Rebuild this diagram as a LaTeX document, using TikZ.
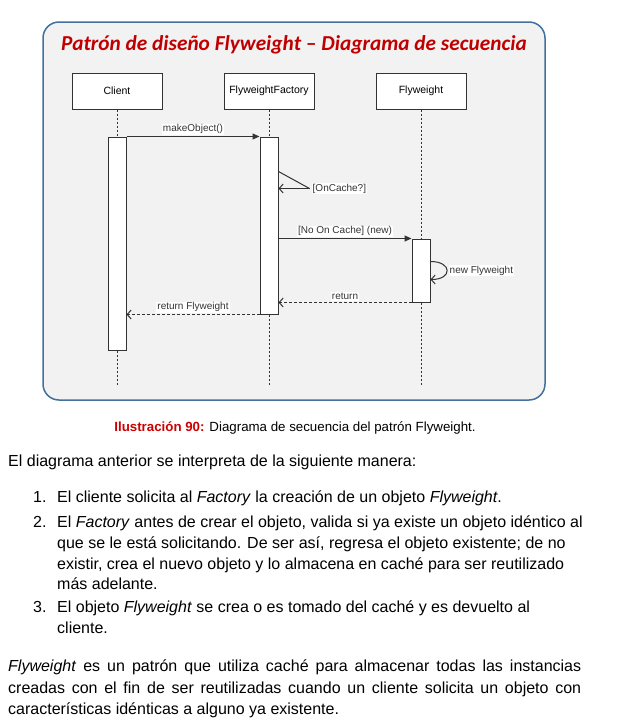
\documentclass[tikz,border=0pt]{standalone}
\usepackage{fontspec}
\setmainfont{Liberation Sans}
\newfontfamily\titlefont{Carlito}
\usetikzlibrary{arrows.meta,positioning}
\definecolor{framefill}{HTML}{F2F2F2}
\definecolor{frameline}{HTML}{41719C}
\definecolor{titlered}{HTML}{C00000}
\definecolor{capred}{HTML}{CC0000}
\definecolor{umlgray}{HTML}{333333}

\begin{document}
\begin{tikzpicture}[x=1pt, y=-1pt, node distance={152pt},
    obj/.style = {draw=umlgray, fill=white, line width=1pt, minimum width=90pt, minimum height=36pt, font=\fontsize{10.5}{12}\selectfont},
    bar/.style = {draw=umlgray, fill=white, line width=1pt, minimum width=18pt, inner sep=0pt},
    life/.style = {umlgray, line width=0.9pt, dash pattern=on 2pt off 2pt},
    call/.style = {umlgray, line width=1pt, -{Triangle[length=7pt,width=6pt]}},
    back/.style = {umlgray, line width=1pt, -{Straight Barb[length=4pt,width=9pt]}},
    ret/.style = {back, dash pattern=on 3pt off 2pt},
    lbl/.style = {fill=white, inner sep=1pt, text=umlgray, font=\fontsize{10}{12}\selectfont},
    txt/.style = {anchor=base west, inner sep=0pt, font=\fontsize{16}{19}\selectfont}]
    \useasboundingbox (0,0) rectangle (617,720);
    % marco
    \draw[frameline, fill=framefill, line width=1.5pt, rounded corners=16pt] (43,22) rectangle (545,400);
    \node[text=titlered, font=\titlefont\bfseries\itshape\fontsize{21.3}{25}\selectfont] (title) at (294,45) {Patrón de diseño Flyweight – Diagrama de secuencia};
    % objetos
    \node[obj] (client) at (117,91) {Client};
    \node[obj] (factory) [right of=client] {FlyweightFactory};
    \node[obj] (fly) [right of=factory] {Flyweight};
    \node[bar, minimum height=213pt, below=27pt of client] (cbar) {};
    \node[bar, minimum height=177pt, below=27pt of factory] (fbar) {};
    \node[bar, minimum height=63pt, below=129pt of fly] (wbar) {};
    \coordinate[below=34pt of cbar.south] (cend);
    \coordinate[below=70pt of fbar.south] (fend);
    \coordinate[below=82pt of wbar.south] (wend);
    \draw[life] (client) -- (cbar) (cbar) -- (cend);
    \draw[life] (factory) -- (fbar) (fbar) -- (fend);
    \draw[life] (fly) -- (wbar) (wbar) -- (wend);
    % mensajes
    \draw[call] (cbar.north east) -- (fbar.north west) node[lbl, midway, above=1pt] {makeObject()};
    \draw[umlgray, line width=1pt] ([yshift=-35pt]fbar.north east) -- ++(31,17) coordinate (oc);
    \draw[back] (oc) -- (oc -| fbar.east);
    \node[lbl, anchor=west] (ocl) at ([xshift=2pt]oc) {[OnCache?]};
    \draw[call] (wbar.north west -| fbar.east) -- (wbar.north west) node[lbl, midway, above=1pt] {[No On Cache] (new)};
    \draw[back] ([yshift=-23pt]wbar.north east) .. controls +(22,0) and +(22,0) .. ([yshift=-41pt]wbar.north east);
    \node[lbl, anchor=west] (nfl) at ([xshift=18pt,yshift=-32pt]wbar.north east) {new Flyweight};
    \draw[ret] (wbar.south west) -- (wbar.south west -| fbar.east) node[lbl, midway, above=1pt] {return};
    \draw[ret] (fbar.south west) -- (fbar.south west -| cbar.east) node[lbl, midway, above=1pt] {return Flyweight};
    % texto
    \node[anchor=base, inner sep=0pt, font=\fontsize{13.3}{16}\selectfont] (caption) at (295,431) {\textcolor{capred}{\bfseries Ilustración 90:} Diagrama de secuencia del patrón Flyweight.};
    \node[txt] (intro) at (8,466) {El diagrama anterior se interpreta de la siguiente manera:};
    \node[txt] (n1) at (33,502) {1.};
    \node[txt] (i1) at (57,502) {El cliente solicita al \textit{Factory} la creación de un objeto \textit{Flyweight}.};
    \node[txt] (n2) at (33,527) {2.};
    \node[txt] (i2a) at (57,527) {El \textit{Factory} antes de crear el objeto, valida si ya existe un objeto idéntico al};
    \node[txt] (i2b) at (57,548) {que se le está solicitando. De ser así, regresa el objeto existente; de no};
    \node[txt] (i2c) at (57,569) {existir, crea el nuevo objeto y lo almacena en caché para ser reutilizado};
    \node[txt] (i2d) at (57,589) {más adelante.};
    \node[txt] (n3) at (33,612) {3.};
    \node[txt] (i3a) at (57,612) {El objeto \textit{Flyweight} se crea o es tomado del caché y es devuelto al};
    \node[txt] (i3b) at (57,633) {cliente.};
    \node[txt] (p1) at (8,671) {\makebox[573pt][s]{\textit{Flyweight} es un patrón que utiliza caché para almacenar todas las instancias}};
    \node[txt] (p2) at (8,693) {\makebox[573pt][s]{creadas con el fin de ser reutilizadas cuando un cliente solicita un objeto con}};
    \node[txt] (p3) at (8,714) {características idénticas a alguno ya existente.};
\end{tikzpicture}
\end{document}
